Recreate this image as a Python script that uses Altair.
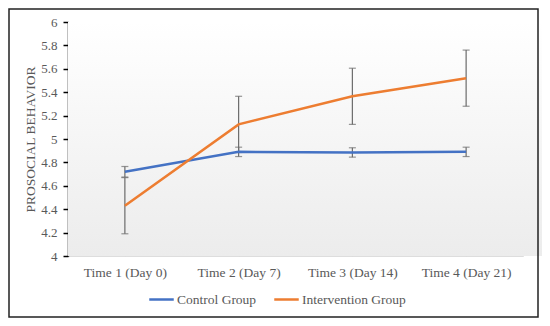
import altair as alt
import pandas as pd

times = ["Time 1 (Day 0)", "Time 2 (Day 7)", "Time 3 (Day 14)", "Time 4 (Day 21)"]
groups = ["Control Group", "Intervention Group"]
control_mean = [4.72, 4.89, 4.885, 4.89]
control_err = [0.045, 0.04, 0.04, 0.04]
interv_mean = [4.43, 5.125, 5.365, 5.52]
interv_err = [0.24, 0.24, 0.24, 0.24]
y_ticks = [4, 4.2, 4.4, 4.6, 4.8, 5, 5.2, 5.4, 5.6, 5.8, 6]
colors = ["#4472C4", "#ED7D31"]

rows = []
for g, means, errs in [(groups[0], control_mean, control_err), (groups[1], interv_mean, interv_err)]:
    for t, m, e in zip(times, means, errs):
        rows.append({"time": t, "group": g, "mean": m, "lo": m - e, "hi": m + e})
df = pd.DataFrame(rows)

W, H = 455, 234
FONT = "Liberation Serif"
TXT = "#595959"

x = alt.X("time:N", sort=times, title=None,
          scale=alt.Scale(type="point", padding=0.5),
          axis=alt.Axis(labelAngle=0, labelFont=FONT, labelFontSize=13.5, labelColor=TXT,
                        domain=False, ticks=False, labelPadding=9,
                        grid=True, gridColor="#d9d9d9", gridWidth=1))
yscale = alt.Scale(domain=[4, 6], nice=False, zero=False)
yaxis = alt.Axis(values=y_ticks,
                 labelExpr="format(datum.value, '.1~f')", labelOverlap=False,
                 labelFont=FONT, labelFontSize=13, labelColor=TXT,
                 titleFont=FONT, titleFontSize=13.5, titleColor=TXT, titleFontWeight="normal",
                 titlePadding=3,
                 grid=False, domainColor="#000000", domainWidth=1.5,
                 tickColor="#000000", tickSize=5, tickWidth=1.5, labelPadding=6)
YT = "PROSOCIAL BEHAVIOR"

base = alt.Chart(df)

bg = alt.Chart(pd.DataFrame({"a": [0]})).mark_rect(
    color=alt.Gradient(gradient="linear", x1=0, x2=0, y1=0, y2=1,
                       stops=[alt.GradientStop(offset=0, color="#ffffff"),
                              alt.GradientStop(offset=1, color="#ececec")])
).encode(x=alt.value(0), x2=alt.value(W + 55), y=alt.value(0), y2=alt.value(H))

frame = alt.Chart(pd.DataFrame({"a": [0]})).mark_rect(
    fill=None, stroke="#222222", strokeWidth=1.5, clip=False
).encode(x=alt.value(-59), x2=alt.value(470), y=alt.value(-13), y2=alt.value(295))

rules = base.mark_rule(color="#6b6b6b", strokeWidth=1.2).encode(
    x=x, y=alt.Y("lo:Q", scale=yscale, axis=yaxis, title=YT), y2="hi:Q")
caps_lo = base.mark_tick(color="#6b6b6b", thickness=1.2, size=7, orient="horizontal").encode(
    x=x, y=alt.Y("lo:Q", scale=yscale, axis=yaxis, title=YT))
caps_hi = base.mark_tick(color="#6b6b6b", thickness=1.2, size=7, orient="horizontal").encode(
    x=x, y=alt.Y("hi:Q", scale=yscale, axis=yaxis, title=YT))

lines = base.mark_line(strokeWidth=2.5).encode(
    x=x,
    y=alt.Y("mean:Q", scale=yscale, title=YT, axis=yaxis),
    color=alt.Color("group:N", scale=alt.Scale(domain=groups, range=colors),
                    legend=alt.Legend(title=None, orient="none", legendX=80, legendY=264,
                                      direction="horizontal", symbolType="stroke",
                                      symbolSize=600, symbolStrokeWidth=2.5,
                                      labelFont=FONT, labelFontSize=13.5, labelColor=TXT,
                                      columnPadding=12, labelOffset=2)),
)

chart = alt.layer(bg, frame, rules, caps_lo, caps_hi, lines).properties(
    width=W, height=H,
    autosize=alt.AutoSizeParams(type="none"),
    padding={"left": 60, "top": 14, "right": 19, "bottom": 62},
).configure_view(stroke=None).configure(background="#ffffff")

chart.save("out.html", embed_options={"renderer": "svg", "actions": False})
